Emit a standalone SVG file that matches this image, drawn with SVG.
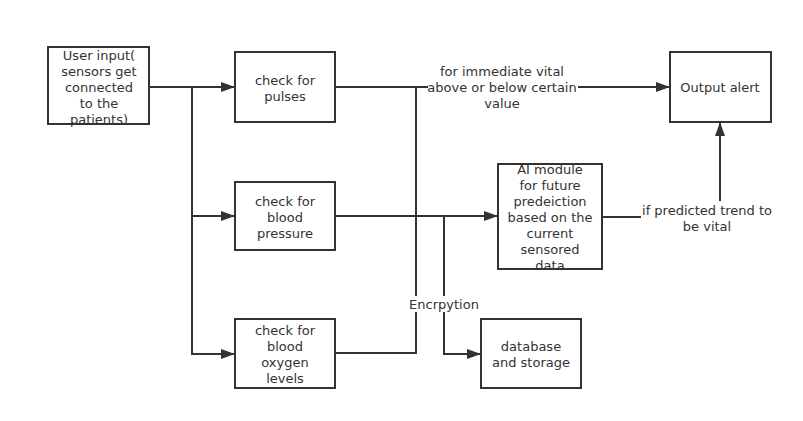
<svg xmlns="http://www.w3.org/2000/svg" width="803" height="421" viewBox="0 0 803 421">
<defs>
<marker id="arr" markerWidth="14" markerHeight="10" refX="13" refY="5" orient="auto" markerUnits="userSpaceOnUse">
<path d="M0,0 L14,5 L0,10 Z" fill="#333"/>
</marker>
</defs>
<style>
.box{fill:#fff;stroke:#333;stroke-width:2}
.t{font-family:"DejaVu Sans","Noto Sans",sans-serif;font-size:13px;fill:#333;text-anchor:middle}
.c{fill:none;stroke:#333;stroke-width:2}
.lb{fill:#fff}
</style>
<rect width="803" height="421" fill="#fff"/>
<g id="connectors">
<path class="c" d="M149,87 H234" marker-end="url(#arr)"/>
<path class="c" d="M192,87 V216 H234" marker-end="url(#arr)"/>
<path class="c" d="M192,216 V354 H234" marker-end="url(#arr)"/>
<path class="c" d="M335,87 H669" marker-end="url(#arr)"/>
<path class="c" d="M416,87 V353 H335"/>
<path class="c" d="M335,216 H497" marker-end="url(#arr)"/>
<path class="c" d="M444,216 V354 H480" marker-end="url(#arr)"/>
<path class="c" d="M602,217 H720 V123" marker-end="url(#arr)"/>
<rect class="lb" x="428" y="64" width="150" height="46"/>
<text class="t" x="502" y="76">for immediate vital</text>
<text class="t" x="502" y="92">above or below certain</text>
<text class="t" x="502" y="108">value</text>
<rect class="lb" x="641" y="201" width="132" height="32"/>
<text class="t" x="707" y="215">if predicted trend to</text>
<text class="t" x="707" y="231">be vital</text>
<rect class="lb" x="409" y="296" width="69" height="16"/>
<text class="t" x="444" y="309">Encrpytion</text>
</g>
<g id="user-input">
<rect class="box" x="48" y="47" width="101" height="77"/>
<text class="t" x="99" y="60">User input(</text>
<text class="t" x="99" y="76">sensors get</text>
<text class="t" x="99" y="92">connected</text>
<text class="t" x="99" y="108">to the</text>
<text class="t" x="99" y="124">patients)</text>
</g>
<g id="pulses">
<rect class="box" x="235" y="52" width="100" height="70"/>
<text class="t" x="285" y="85">check for</text>
<text class="t" x="285" y="101">pulses</text>
</g>
<g id="blood-pressure">
<rect class="box" x="235" y="182" width="100" height="68"/>
<text class="t" x="285" y="206">check for</text>
<text class="t" x="285" y="222">blood</text>
<text class="t" x="285" y="238">pressure</text>
</g>
<g id="blood-oxygen">
<rect class="box" x="235" y="319" width="100" height="69"/>
<text class="t" x="285" y="335">check for</text>
<text class="t" x="285" y="351">blood</text>
<text class="t" x="285" y="367">oxygen</text>
<text class="t" x="285" y="383">levels</text>
</g>
<g id="ai-module">
<rect class="box" x="498" y="164" width="104" height="105"/>
<text class="t" x="550" y="174">AI module</text>
<text class="t" x="550" y="190">for future</text>
<text class="t" x="550" y="206">predeiction</text>
<text class="t" x="550" y="222">based on the</text>
<text class="t" x="550" y="238">current</text>
<text class="t" x="550" y="254">sensored</text>
<text class="t" x="550" y="270">data</text>
</g>
<g id="output-alert">
<rect class="box" x="670" y="52" width="101" height="70"/>
<text class="t" x="720" y="92">Output alert</text>
</g>
<g id="database">
<rect class="box" x="481" y="319" width="100" height="69"/>
<text class="t" x="531" y="351">database</text>
<text class="t" x="531" y="367">and storage</text>
</g>
</svg>
